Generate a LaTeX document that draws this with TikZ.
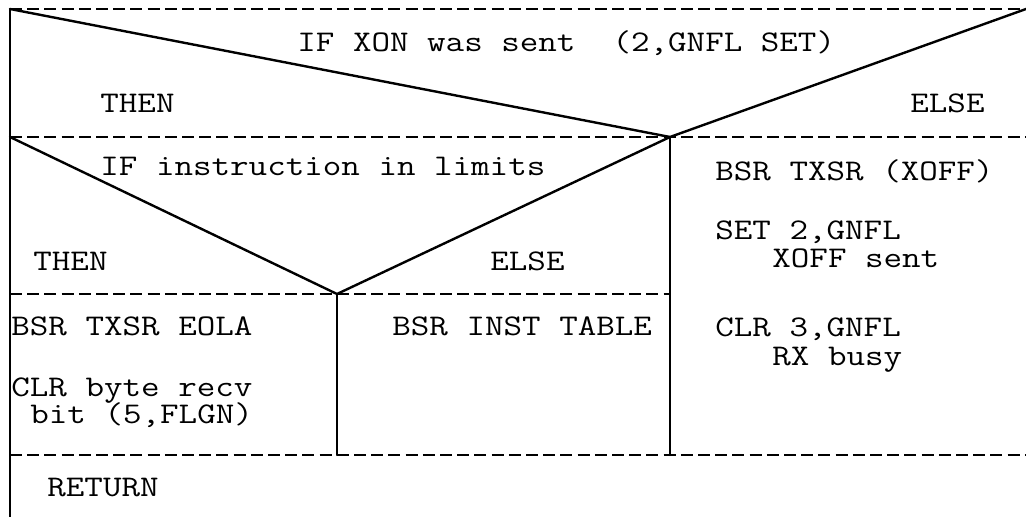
\documentclass[tikz,border=0pt]{standalone}
\usepackage{fontspec}
\begin{document}
\begin{tikzpicture}[x=0.5pt,y=-0.5pt,
  solidline/.style={line width=1.2pt, line cap=round},
  dashline/.style={line width=0.9pt, dash pattern=on 6pt off 2.6pt},
  txt/.style={anchor=base west, inner sep=0pt, font=\fontsize{15}{18}\ttfamily\addfontfeature{FakeBold=0.6}}]
\useasboundingbox (0,0) rectangle (1026,517);
\newcommand\tw[1]{\scalebox{1.2}[1]{#1}}
% corner and junction coordinates
\coordinate (tl) at (10,9);
\coordinate (tr) at (1026,9);
\coordinate (ml) at (10,137);
\coordinate (mr) at (1026,137);
\coordinate (apex) at (670,137);
\coordinate (ll) at (10,294);
\coordinate (apex2) at (337,294);
\coordinate (lm) at (670,294);
\coordinate (bl) at (10,455);
\coordinate (bm) at (337,455);
\coordinate (bm2) at (670,455);
\coordinate (br) at (1026,455);
\coordinate (bot) at (10,517);
% dashed horizontals
\draw[dashline] (tl) -- (tr);
\draw[dashline] (ml) -- (mr);
\draw[dashline] (ll) -- (lm);
\draw[dashline] (bl) -- (br);
% solid lines
\draw[solidline] (tl) -- (bot);
\draw[solidline] (tl) -- (apex) -- (tr);
\draw[solidline] (ml) -- (apex2) -- (apex);
\draw[solidline] (apex) -- (bm2);
\draw[solidline] (apex2) -- (bm);
% texts
\node[txt] (c1) at (297,52) {\tw{IF XON was sent\ \ (2,GNFL SET)}};
\node[txt] (t1) at (100,113) {\tw{THEN}};
\node[txt] (e1) at (910,113) {\tw{ELSE}};
\node[txt] (c2) at (100,176) {\tw{IF instruction in limits}};
\node[txt] (t2) at (33,271) {\tw{THEN}};
\node[txt] (e2) at (490,271) {\tw{ELSE}};
\node[txt] (x1) at (715,181) {\tw{BSR TXSR (XOFF)}};
\node[txt] (x2) at (715,240) {\tw{SET 2,GNFL}};
\node[txt] (x3) at (772,268) {\tw{XOFF sent}};
\node[txt] (x4) at (715,337) {\tw{CLR 3,GNFL}};
\node[txt] (x5) at (772,365) {\tw{RX busy}};
\node[txt] (a1) at (11,336) {\tw{BSR TXSR EOLA}};
\node[txt] (b1) at (392,336) {\tw{BSR INST TABLE}};
\node[txt] (a2) at (11,396) {\tw{CLR byte recv}};
\node[txt] (a3) at (30,423) {\tw{bit (5,FLGN)}};
\node[txt] (r1) at (47,496) {\tw{RETURN}};
\end{tikzpicture}
\end{document}
